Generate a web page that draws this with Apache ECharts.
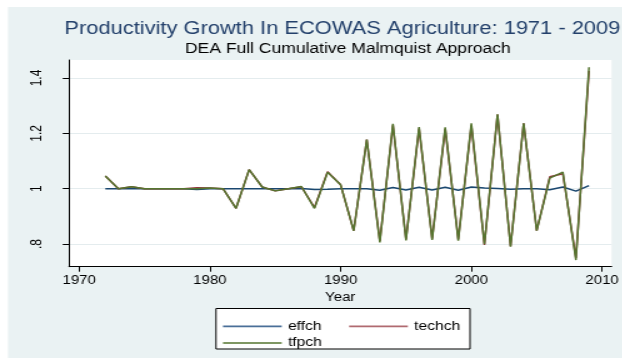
<!DOCTYPE html>
<html>
<head>
<meta charset="utf-8">
<script src="https://cdn.jsdelivr.net/npm/echarts@6/dist/echarts.min.js"></script>
<style>
  html, body { margin: 0; padding: 0; background: #fff; overflow: hidden; }
  /* the original graph is stretched sideways, so draw narrow and widen it */
  #chart { width: 497.6px; height: 358px; transform: scaleX(1.25); transform-origin: 0 0; }
</style>
</head>
<body>
<div id="chart"></div>
<script>
// years of the index series
const years = [1972, 1973, 1974, 1975, 1976, 1977, 1978, 1979, 1980, 1981,
  1982, 1983, 1984, 1985, 1986, 1987, 1988, 1989, 1990, 1991,
  1992, 1993, 1994, 1995, 1996, 1997, 1998, 1999, 2000, 2001,
  2002, 2003, 2004, 2005, 2006, 2007, 2008, 2009];

// efficiency change
const effch = [1.000, 1.000, 1.000, 1.000, 1.000, 1.000, 1.000, 0.997, 1.000, 1.000,
  1.000, 1.000, 1.000, 1.000, 1.000, 1.001, 0.997, 0.998, 1.000, 1.000,
  1.000, 0.994, 1.004, 0.995, 1.005, 0.995, 1.005, 0.994, 1.006, 1.002,
  1.001, 0.998, 1.000, 1.000, 0.996, 1.006, 0.991, 1.011];

// technical change
const techch = [1.046, 1.000, 1.007, 1.000, 1.000, 1.000, 1.000, 1.003, 1.002, 1.000,
  0.929, 1.069, 1.006, 0.992, 1.000, 1.007, 0.932, 1.061, 1.014, 0.848,
  1.177, 0.811, 1.229, 0.817, 1.217, 0.819, 1.216, 0.817, 1.229, 0.797,
  1.268, 0.792, 1.236, 0.848, 1.043, 1.054, 0.750, 1.425];

// total factor productivity change
const tfpch = [1.046, 1.000, 1.007, 1.000, 1.000, 1.000, 1.000, 1.000, 1.002, 1.000,
  0.929, 1.069, 1.006, 0.992, 1.000, 1.008, 0.929, 1.059, 1.014, 0.848,
  1.177, 0.806, 1.234, 0.813, 1.223, 0.815, 1.222, 0.812, 1.236, 0.799,
  1.269, 0.790, 1.236, 0.848, 1.038, 1.060, 0.742, 1.439];

const xTicks = [1970, 1980, 1990, 2000, 2010];
const yTicks = [0.8, 1, 1.2, 1.4];
const yTickLabels = ['.8', '1', '1.2', '1.4'];

const pairs = (vals) => years.map((y, i) => [y, vals[i]]);

const font = 'Liberation Sans, Arial, sans-serif';
const chart = echarts.init(document.getElementById('chart'));

const legendBase = {
  left: 178.4,
  itemWidth: 47,
  itemHeight: 1.6,
  padding: 0,
  icon: 'rect',
  textStyle: { color: '#000', fontSize: 12.5, fontFamily: font }
};

const option = {
  backgroundColor: '#fff',
  animation: false,
  title: [
    {
      text: 'Productivity Growth In ECOWAS Agriculture: 1971 - 2009',
      left: 51.5,
      top: 20,
      padding: 0,
      textStyle: { color: '#23406b', fontSize: 17.5, fontWeight: 'normal', fontFamily: font }
    },
    {
      text: 'DEA Full Cumulative Malmquist Approach',
      left: 148,
      top: 42,
      padding: 0,
      textStyle: { color: '#000', fontSize: 14, fontWeight: 'normal', fontFamily: font }
    }
  ],
  graphic: [
    {
      type: 'rect', z: -10, silent: true,
      shape: { x: 6.4, y: 7, width: 500, height: 360 },
      style: { fill: '#eaf2f3' }
    },
    {
      type: 'rect', z: 1, silent: true,
      shape: { x: 172.8, y: 308.5, width: 203.2, height: 40.5 },
      style: { fill: '#fff', stroke: '#000', lineWidth: 1 }
    }
  ],
  grid: {
    left: 55.2,
    right: 4,
    top: 60,
    bottom: 91.3,
    show: true,
    backgroundColor: '#fff',
    borderWidth: 0
  },
  xAxis: {
    type: 'value',
    min: 1969.22,
    max: 2010.73,
    name: 'Year',
    nameLocation: 'middle',
    nameGap: 21,
    nameTextStyle: { color: '#000', fontSize: 12, fontFamily: font },
    axisLine: { lineStyle: { color: '#000', width: 1 } },
    axisTick: { customValues: xTicks, length: 5, lineStyle: { color: '#000' } },
    axisLabel: {
      customValues: xTicks, margin: 8, color: '#000', fontSize: 12, fontFamily: font,
      formatter: (v) => String(v)
    },
    splitLine: { show: false }
  },
  yAxis: {
    type: 'value',
    min: 0.718,
    max: 1.465,
    axisLine: { show: true, lineStyle: { color: '#000', width: 1 } },
    axisTick: { show: true, customValues: yTicks, length: 5, lineStyle: { color: '#000' } },
    axisLabel: {
      customValues: yTicks,
      rotate: 90,
      margin: 20,
      color: '#000',
      fontSize: 12,
      fontFamily: font,
      formatter: (v) => yTickLabels[yTicks.indexOf(Math.round(v * 10) / 10)] || ''
    },
    splitLine: { show: true, customValues: yTicks, lineStyle: { color: '#e4ecee', width: 1 } }
  },
  legend: [
    Object.assign({}, legendBase, { data: ['effch', 'techch'], top: 320.7 - 0.8, itemGap: 22 }),
    Object.assign({}, legendBase, { data: ['tfpch'], top: 337.3 - 0.8 })
  ],
  series: [
    {
      name: 'effch', type: 'line', data: pairs(effch), symbol: 'none',
      lineStyle: { color: '#1a476f', width: 1.5 }, itemStyle: { color: '#4a6f98' }, z: 3
    },
    {
      name: 'techch', type: 'line', data: pairs(techch), symbol: 'none',
      lineStyle: { color: '#90353b', width: 1.5 }, itemStyle: { color: '#b06a70' }, z: 4
    },
    {
      name: 'tfpch', type: 'line', data: pairs(tfpch), symbol: 'none',
      lineStyle: { color: '#55752f', width: 1.5 }, itemStyle: { color: '#55752f' }, z: 5
    }
  ]
};

chart.setOption(option);
</script>
</body>
</html>
